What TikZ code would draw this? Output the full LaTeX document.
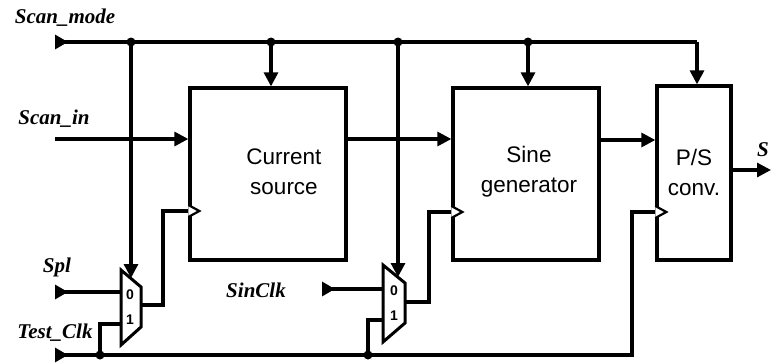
\documentclass[tikz,border=0pt]{standalone}
\usepackage{fontspec}
\setmainfont{Liberation Serif}
\setsansfont{Liberation Sans}
\usetikzlibrary{arrows.meta}
\tikzset{
  wire/.style={line width=3.1pt},
  boxx/.style={draw, line width=3.3pt, inner sep=0pt},
  boxt/.style={align=center, inner sep=0pt, font=\sffamily\fontsize{22.5}{30}\selectfont},
  arr/.style={-{Triangle[length=14pt,width=14pt]}},
  inp/.style={{Triangle[length=13pt,width=14pt,reversed]}-},
  jdot/.style={circle, fill, inner sep=0pt, minimum size=9pt},
  lbl/.style={font=\itshape\bfseries\fontsize{21}{24}\selectfont, inner sep=0pt},
  muxl/.style={font=\sffamily\bfseries\fontsize{14}{14}\selectfont, inner sep=0pt},
  muxs/.style={line width=3pt, line join=miter},
  clk/.style={line width=2.2pt, fill=white},
}
\begin{document}
\begin{tikzpicture}[x=1pt,y=-1pt]
\useasboundingbox (0,0) rectangle (771,362);
% boxes
\node[boxx, minimum width=156pt, minimum height=172pt] (cs) at (268,174) {};
\node[boxx, minimum width=146pt, minimum height=172pt] (sg) at (526,174) {};
\node[boxx, minimum width=74pt, minimum height=174pt] (ps) at (694,173) {};
\node[boxt] (cst) at (284,172) {Current\\source};
\node[boxt] (sgt) at (529,172) {Sine\\generator};
\node[boxt] (pst) at (694,172) {P/S\\conv.};
% labels
\node[lbl] (lsm) at (65,18) {Scan\_mode};
\node[lbl] (lsi) at (54,119) {Scan\_in};
\node[lbl] (lspl) at (57,267) {Spl};
\node[lbl] (ltc) at (55,333) {Test\_Clk};
\node[lbl] (lsc) at (256,290) {SinClk};
\node[lbl] (ls) at (763,150) {S};
% coordinates
\coordinate (smin) at (55,42);
\coordinate (siin) at (55,139);
\coordinate (splin) at (55,292);
\coordinate (tcin) at (55,355);
\coordinate (scin) at (322,289);
\coordinate (sout) at (771,170);
% mux 1
\coordinate (m1a) at (121,270); \coordinate (m1b) at (141,287);
\coordinate (m1c) at (141,327); \coordinate (m1d) at (121,345);
\draw[muxs] (m1a) -- (m1b) -- (m1c) -- (m1d) -- cycle;
\coordinate (m1i0) at (121,292); \coordinate (m1i1) at (121,324);
\coordinate (m1o) at (141,305); \coordinate (m1s) at (131,278);
\node[muxl] at (130,295) {0};
\node[muxl] at (130,320) {1};
% mux 2
\coordinate (m2a) at (383,265); \coordinate (m2b) at (405,283);
\coordinate (m2c) at (405,323); \coordinate (m2d) at (383,342);
\draw[muxs] (m2a) -- (m2b) -- (m2c) -- (m2d) -- cycle;
\coordinate (m2i0) at (383,289); \coordinate (m2i1) at (383,320);
\coordinate (m2o) at (405,302); \coordinate (m2s) at (398,277);
\node[muxl] at (394,291) {0};
\node[muxl] at (394,316) {1};
% junctions
\node[jdot] (j1) at (131,42) {};
\node[jdot] (j2) at (271,42) {};
\node[jdot] (j3) at (398,42) {};
\node[jdot] (j4) at (528,42) {};
\node[jdot] (j5) at (100,355) {};
\node[jdot] (j6) at (368,355) {};
% Scan_mode bus
\draw[wire, inp] (smin) -- (697,42) coordinate (pscorner);
\draw[wire, arr] (pscorner) -- (pscorner |- ps.north);
\draw[wire, arr] (j1.center) -- (m1s);
\draw[wire, arr] (j2.center) -- (j2 |- cs.north);
\draw[wire, arr] (j3.center) -- (m2s);
\draw[wire, arr] (j4.center) -- (j4 |- sg.north);
% data path
\draw[wire, inp, arr] (siin) -- (siin -| cs.west);
\draw[wire, arr] (cs.east |- 0,139) -- (sg.west |- 0,139);
\draw[wire, arr] (sg.east |- 0,140) -- (ps.west |- 0,140);
\draw[wire, arr] (ps.east |- sout) -- (sout);
% mux inputs
\draw[wire, inp] (splin) -- (m1i0);
\draw[wire, inp] (scin) -- (m2i0);
% Test_Clk
\draw[wire, inp] (tcin) -- (632,355) -- (632,212) -- (ps.west |- 0,212) coordinate (ck3);
\draw[wire] (j5.center) -- (100,324) -- (m1i1);
\draw[wire] (j6.center) -- (368,320) -- (m2i1);
% mux outputs to clocks
\draw[wire] (m1o) -- (163,305) -- (163,211) -- (cs.west |- 0,211) coordinate (ck1);
\draw[wire] (m2o) -- (429,302) -- (429,212) -- (sg.west |- 0,212) coordinate (ck2);
% clock pins
\foreach \c in {ck1,ck2,ck3}{
  \draw[clk] ([yshift=-6pt]\c) -- ([xshift=11pt]\c) -- ([yshift=6pt]\c);
}
\end{tikzpicture}
\end{document}
